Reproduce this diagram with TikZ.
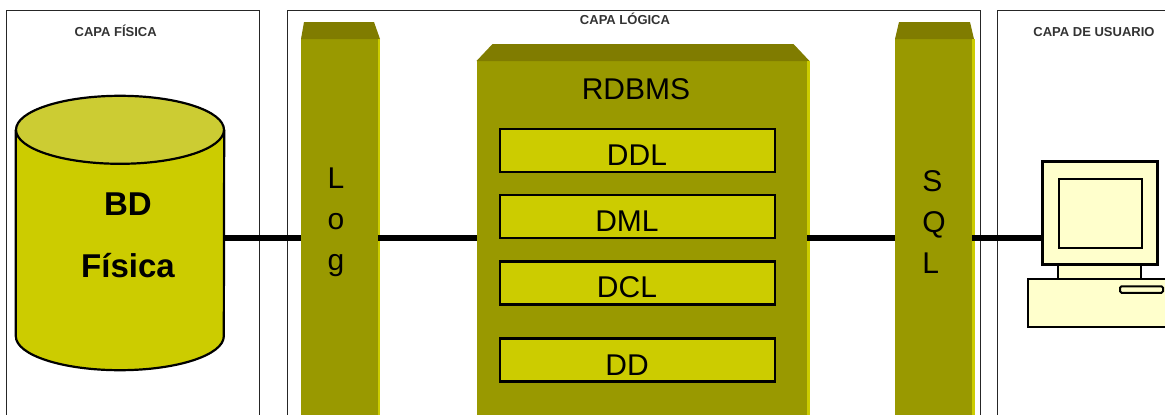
\documentclass[tikz,border=0pt]{standalone}
\usepackage{fontspec}
\setmainfont{Liberation Sans}

\definecolor{barbody}{HTML}{999900}
\definecolor{bartop}{HTML}{807C00}
\definecolor{barside}{HTML}{CCCC00}
\definecolor{dbtop}{HTML}{CCCC33}
\definecolor{pcfill}{HTML}{FFFFCC}

\begin{document}
\begin{tikzpicture}[x=1pt,y=-1pt,
  layer/.style={draw=black!85,line width=0.9pt,anchor=north west,minimum height=500},
  layertext/.style={anchor=base,font=\fontsize{13}{15}\selectfont\bfseries,text=black!80,inner sep=0},
  bar/.style={fill=barbody,anchor=north west,inner sep=0},
  bartext/.style={font=\fontsize{30}{41}\selectfont,align=left,inner sep=0},
  sqlbox/.style={draw=black,line width=2.4pt,fill=barside,minimum width=275,minimum height=43,inner sep=0},
  boxtext/.style={anchor=base,font=\fontsize{30}{36}\selectfont,inner sep=0},
  dbtext/.style={anchor=base,font=\fontsize{33}{40}\selectfont\bfseries,inner sep=0},
  dbline/.style={draw=black,line width=2.2pt},
  wire/.style={line width=6.5pt},
  pcpart/.style={draw=black,fill=pcfill,inner sep=0,line width=2pt}]

  \clip (0,0) rectangle (1165,415);

  % Layers

  \node [layer,minimum width=253] (fisica) at (6,9.5) {};
  \node [layer,minimum width=692.5] (logica) at (287,10) {};
  \node [layer,minimum width=300] (usuario) at (997,10) {};

  \node [layertext] (fisica-txt) at (115.7,36) {CAPA FÍSICA};
  \node [layertext] (logica-txt) at (625,24) {CAPA LÓGICA};
  \node [layertext] (usuario-txt) at (1094,36) {CAPA DE USUARIO};

  % Physical database

  \node [minimum width=208,minimum height=274,inner sep=0] (bd) at (120,233) {};
  \draw [dbline,fill=barside] ([yshift=-34pt]bd.north west) -- ([yshift=34pt]bd.south west)
    arc [start angle=180,end angle=360,x radius=104pt,y radius=34pt]
    -- ([yshift=-34pt]bd.north east);
  \draw [dbline,fill=dbtop] ([yshift=-34pt]bd.north) ellipse [x radius=104pt,y radius=34pt];
  \node [dbtext] (bd-txt) at (128,215) {BD};
  \node [dbtext] (bdf-txt) at (128,277) {Física};

  % Log bar

  \node [bar,minimum width=77,minimum height=376] (log) at (301,39) {};
  \fill [bartop] (log.north west) -- ++(3,-17) -- ++(70,0) -- ++(6,17) -- cycle;
  \fill [barside] (log.north east) rectangle ++(2,376);
  \node [bartext] (log-txt) at (336,222) {L\\o\\g};

  % RDBMS block

  \node [bar,minimum width=330.5,minimum height=354] (rdbms) at (476.5,61) {};
  \fill [bartop] (rdbms.north west) -- ++(16,-17) -- ++(301,0) -- ++(16,17) -- cycle;
  \fill [barside] (rdbms.north east) rectangle ++(3,354);
  \node [boxtext] (rdbms-txt) at (636,99) {RDBMS};

  \node [sqlbox] (ddl) at (637.5,150.5) {};
  \node [sqlbox] (dml) at (637.5,216.5) {};
  \node [sqlbox] (dcl) at (637.5,283) {};
  \node [sqlbox] (dd) at (637.5,360) {};
  \node [boxtext] (ddl-txt) at (637,165) {DDL};
  \node [boxtext] (dml-txt) at (627,231) {DML};
  \node [boxtext] (dcl-txt) at (627,297) {DCL};
  \node [boxtext] (dd-txt) at (627,375) {DD};

  % SQL bar

  \node [bar,minimum width=77,minimum height=376] (sql) at (895,39) {};
  \fill [bartop] (sql.north west) -- ++(4,-17) -- ++(71,0) -- ++(4,17) -- cycle;
  \fill [barside] (sql.north east) rectangle ++(3,376);
  \node [bartext] (sql-txt) at (934,222) {S\\Q\\L};

  % Computer

  \node [pcpart,line width=2.6pt,minimum width=115,minimum height=103] (monitor) at (1100,213) {};
  \node [pcpart,minimum width=83,minimum height=69] (screen) at (1100,213.5) {};
  \node [pcpart,minimum width=83,minimum height=14] (neck) at (1099.5,272) {};
  \node [pcpart,minimum width=150,minimum height=48] (base) at (1103,303) {};
  \node [pcpart,rounded corners=1.5pt,minimum width=43,minimum height=6.5] (slot) at (1141.5,289.5) {};

  % Connections

  \coordinate (wirey) at (0,238);
  \draw [wire] (bd.east |- wirey) -- (log.west |- wirey);
  \draw [wire] (log.east |- wirey) -- (rdbms.west |- wirey);
  \draw [wire] (rdbms.east |- wirey) -- (sql.west |- wirey);
  \draw [wire] (sql.east |- wirey) -- (monitor.west |- wirey);
\end{tikzpicture}
\end{document}
